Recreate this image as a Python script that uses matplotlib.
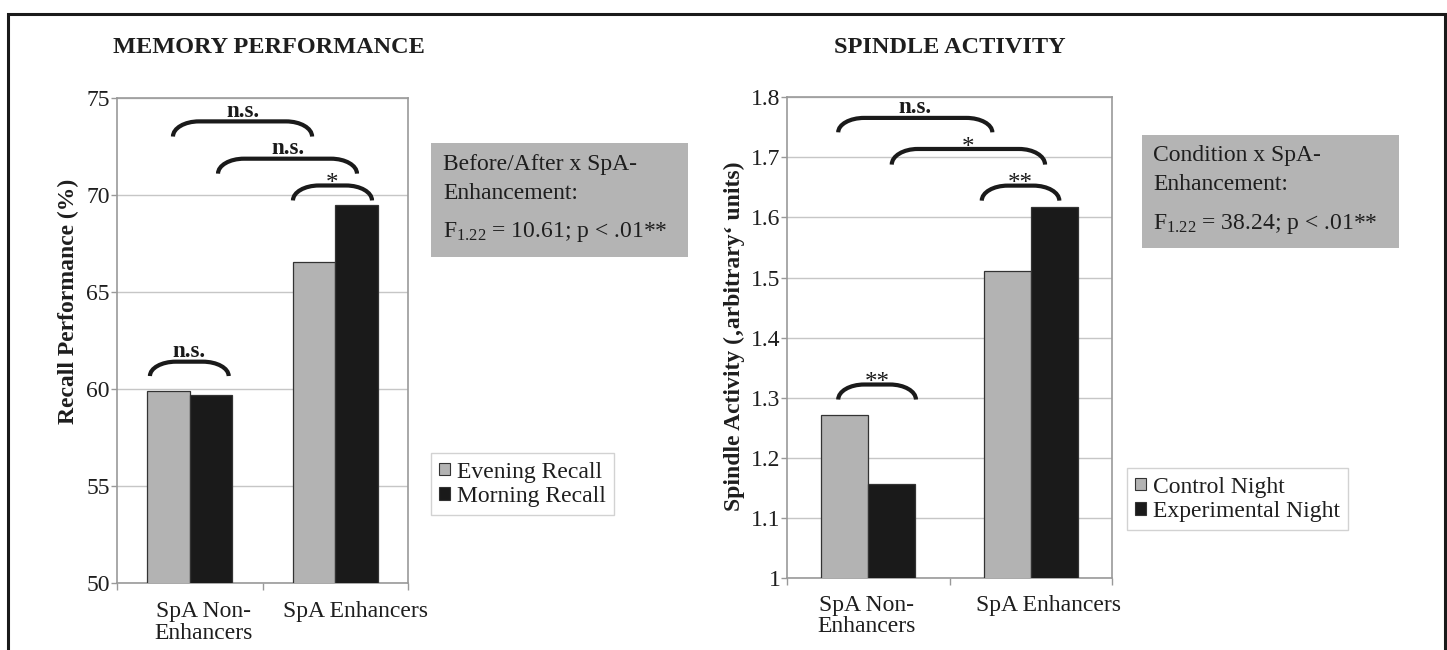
import matplotlib
matplotlib.use('Agg')
import matplotlib.pyplot as plt
from matplotlib.path import Path
from matplotlib.patches import PathPatch, Rectangle, Patch
from matplotlib.lines import Line2D
from matplotlib.transforms import ScaledTranslation

# ---------------- data ----------------
groups = ['SpA Non-\nEnhancers', 'SpA Enhancers']
memory_series = ['Evening Recall', 'Morning Recall']
memory_evening = [59.88, 66.55]
memory_morning = [59.70, 69.48]
memory_ticks = [50, 55, 60, 65, 70, 75]

spindle_series = ['Control Night', 'Experimental Night']
spindle_control = [1.271, 1.511]
spindle_experimental = [1.156, 1.617]
spindle_ticks = [1.0, 1.1, 1.2, 1.3, 1.4, 1.5, 1.6, 1.7, 1.8]

# significance brackets: (x_start, x_end, y_top, y_end, label) in data units
memory_brackets = [(-0.114, 0.840, 73.78, 73.00, 'n.s.'),
                   (0.195, 1.148, 71.86, 71.09, 'n.s.'),
                   (0.709, 1.251, 70.48, 69.71, '*'),
                   (-0.272, 0.268, 61.41, 60.67, 'n.s.')]
spindle_brackets = [(-0.186, 0.764, 1.7657, 1.7417, 'n.s.'),
                    (0.144, 1.089, 1.714, 1.688, '*'),
                    (0.699, 1.177, 1.653, 1.628, '**'),
                    (-0.186, 0.293, 1.322, 1.297, '**')]

memory_stats = ['Before/After x SpA-', 'Enhancement:',
                r'F$_{\mathrm{1.22}}$ = 10.61; p < .01**']
spindle_stats = ['Condition x SpA-', 'Enhancement:',
                 r'F$_{\mathrm{1.22}}$ = 38.24; p < .01**']

# ---------------- style ----------------
plt.rcParams['font.family'] = ['Liberation Serif', 'DejaVu Serif']
plt.rcParams['mathtext.fontset'] = 'custom'
plt.rcParams['mathtext.rm'] = 'Liberation Serif'
plt.rcParams['mathtext.it'] = 'Liberation Serif:italic'
plt.rcParams['mathtext.bf'] = 'Liberation Serif:bold'

W, H = 1447, 650
GRAY = '#b3b3b3'
BLACK = '#1a1a1a'
TXT = '#1e1e1e'

fig = plt.figure(figsize=(W / 100, H / 100), dpi=100)
fig.patch.set_facecolor('white')


def fx(px):
    return px / W


def fy(py):
    return 1 - py / H


ax1 = fig.add_axes([fx(116.7), fy(583.3), (408.3 - 116.7) / W, (583.3 - 97.7) / H])
ax2 = fig.add_axes([fx(787.3), fy(578.0), (1111.7 - 787.3) / W, (578.0 - 97.3) / H])

BW = 0.29
x = list(range(len(groups)))


def style_axes(ax, ticks, ylim, fmt, label_offsets, lsp):
    ax.set_xlim(-0.5, 1.5)
    ax.set_ylim(*ylim)
    ax.set_yticks(ticks)
    ax.set_yticklabels([fmt(t) for t in ticks])
    ax.set_xticks([-0.5, 0.5, 1.5])
    ax.set_xticklabels([])
    ax.set_xticks(x, minor=True)
    ax.set_xticklabels(groups, minor=True)
    ax.tick_params(axis='x', which='major', length=5, direction='out', color='#999999', width=1)
    ax.tick_params(axis='x', which='minor', length=0, pad=12.5, labelsize=17, labelcolor=TXT)
    ax.tick_params(axis='y', length=4, direction='out', color='#999999', width=1, pad=1,
                   labelsize=17, labelcolor=TXT)
    for sp in ax.spines.values():
        sp.set_color('#9a9a9a')
        sp.set_linewidth(1.2)
    ax.grid(axis='y', color='#c6c6c6', linewidth=1.0)
    ax.set_axisbelow(True)
    for lab, off in zip(ax.get_xticklabels(minor=True), label_offsets):
        lab.set_linespacing(lsp)
        lab.set_transform(lab.get_transform() + ScaledTranslation(off / 100, 0, fig.dpi_scale_trans))


def draw_brackets(ax, brackets):
    ext = ax.get_window_extent()
    x0l, x1l = ax.get_xlim()
    ppx = ext.width / (x1l - x0l)
    k = 0.5523
    for (xa, xb, yt, ye, lab) in brackets:
        dx = 26 / ppx
        dy = yt - ye
        verts = [(xa, ye), (xa, ye + k * dy), (xa + dx - k * dx, yt), (xa + dx, yt),
                 (xb - dx, yt),
                 (xb - dx + k * dx, yt), (xb, ye + k * dy), (xb, ye)]
        codes = [Path.MOVETO, Path.CURVE4, Path.CURVE4, Path.CURVE4,
                 Path.LINETO, Path.CURVE4, Path.CURVE4, Path.CURVE4]
        ax.add_patch(PathPatch(Path(verts, codes), facecolor='none', edgecolor=BLACK,
                               linewidth=3.0, capstyle='butt', clip_on=False, zorder=5))
        xc = (xa + xb) / 2
        if lab == 'n.s.':
            ax.annotate(lab, (xc, yt), xytext=(0, 3.3), textcoords='offset points',
                        ha='center', va='baseline', fontsize=16.5, fontweight='bold',
                        color=BLACK, annotation_clip=False)
        else:
            ax.annotate(lab, (xc, yt), xytext=(0, -3.5), textcoords='offset points',
                        ha='center', va='baseline', fontsize=18, color=BLACK,
                        annotation_clip=False)


# ---------------- left: memory ----------------
ax1.bar([i - BW / 2 for i in x], memory_evening, width=BW, color=GRAY, edgecolor='#333333',
        linewidth=0.9, zorder=3, label=memory_series[0])
ax1.bar([i + BW / 2 for i in x], memory_morning, width=BW, color=BLACK, edgecolor='#333333',
        linewidth=0.9, zorder=3, label=memory_series[1])
style_axes(ax1, memory_ticks, (50, 75), lambda t: f'{t:g}', [13.5, 20], 1.08)

# ---------------- right: spindle ----------------
ax2.bar([i - BW / 2 for i in x], spindle_control, width=BW, color=GRAY, edgecolor='#333333',
        linewidth=0.9, zorder=3, label=spindle_series[0])
ax2.bar([i + BW / 2 for i in x], spindle_experimental, width=BW, color=BLACK, edgecolor='#333333',
        linewidth=0.9, zorder=3, label=spindle_series[1])
style_axes(ax2, spindle_ticks, (1.0, 1.8), lambda t: f'{t:g}', [-2, 18], 1.0)

draw_brackets(ax1, memory_brackets)
draw_brackets(ax2, spindle_brackets)

# y labels
fig.text(fx(68.3), fy(301), 'Recall Performance (%)', rotation=90, ha='center', va='center',
         fontsize=17, fontweight='bold', color=TXT)
fig.text(fx(734), fy(335.8), 'Spindle Activity (\u201aarbitrary\u2018 units)', rotation=90,
         ha='center', va='center', fontsize=17, fontweight='bold', color=TXT)

# titles
fig.text(fx(269), fy(53.3), 'MEMORY PERFORMANCE', ha='center', va='baseline',
         fontsize=17.5, fontweight='bold', color=TXT)
fig.text(fx(950), fy(53.3), 'SPINDLE ACTIVITY', ha='center', va='baseline',
         fontsize=17.5, fontweight='bold', color=TXT)

# legends
for handles_src, series, anchor in [
        ((GRAY, BLACK), memory_series, (fx(431), fy(453.3))),
        ((GRAY, BLACK), spindle_series, (fx(1126.7), fy(468.3)))]:
    handles = [Patch(facecolor=c, edgecolor='#333333', linewidth=0.8) for c in handles_src]
    leg = fig.legend(handles, series, loc='upper left', bbox_to_anchor=anchor,
                     bbox_transform=fig.transFigure, frameon=True, fancybox=False,
                     edgecolor='#d2d2d2', framealpha=1, fontsize=17,
                     handlelength=0.45, handleheight=0.45, handletextpad=0.3,
                     labelspacing=0.15, borderpad=0.35, borderaxespad=0)
    leg.get_frame().set_linewidth(1.0)
    for t in leg.get_texts():
        t.set_color(TXT)

# statistics boxes
for (bx0, by0, bx1, by1), lines, tx, bases in [
        ((431, 143.3, 688.3, 256.7), memory_stats, 443, (170, 199, 237)),
        ((1141.7, 135, 1399, 247.7), spindle_stats, 1153.3, (160.7, 190, 228.5))]:
    fig.add_artist(Rectangle((fx(bx0), fy(by1)), (bx1 - bx0) / W, (by1 - by0) / H,
                             transform=fig.transFigure, facecolor='#b4b4b4',
                             edgecolor='none', zorder=1))
    for s, b in zip(lines, bases):
        fig.text(fx(tx), fy(b), s, ha='left', va='baseline', fontsize=17, color=TXT, zorder=2)

# outer frame (left, top, right)
fig.add_artist(Line2D([fx(7.5), fx(7.5), fx(1444.5), fx(1444.5)],
                      [0, fy(14.0), fy(14.0), 0], transform=fig.transFigure,
                      color='#1a1a1a', linewidth=2.2, solid_joinstyle='miter'))

fig.savefig('out.png', dpi=100)
